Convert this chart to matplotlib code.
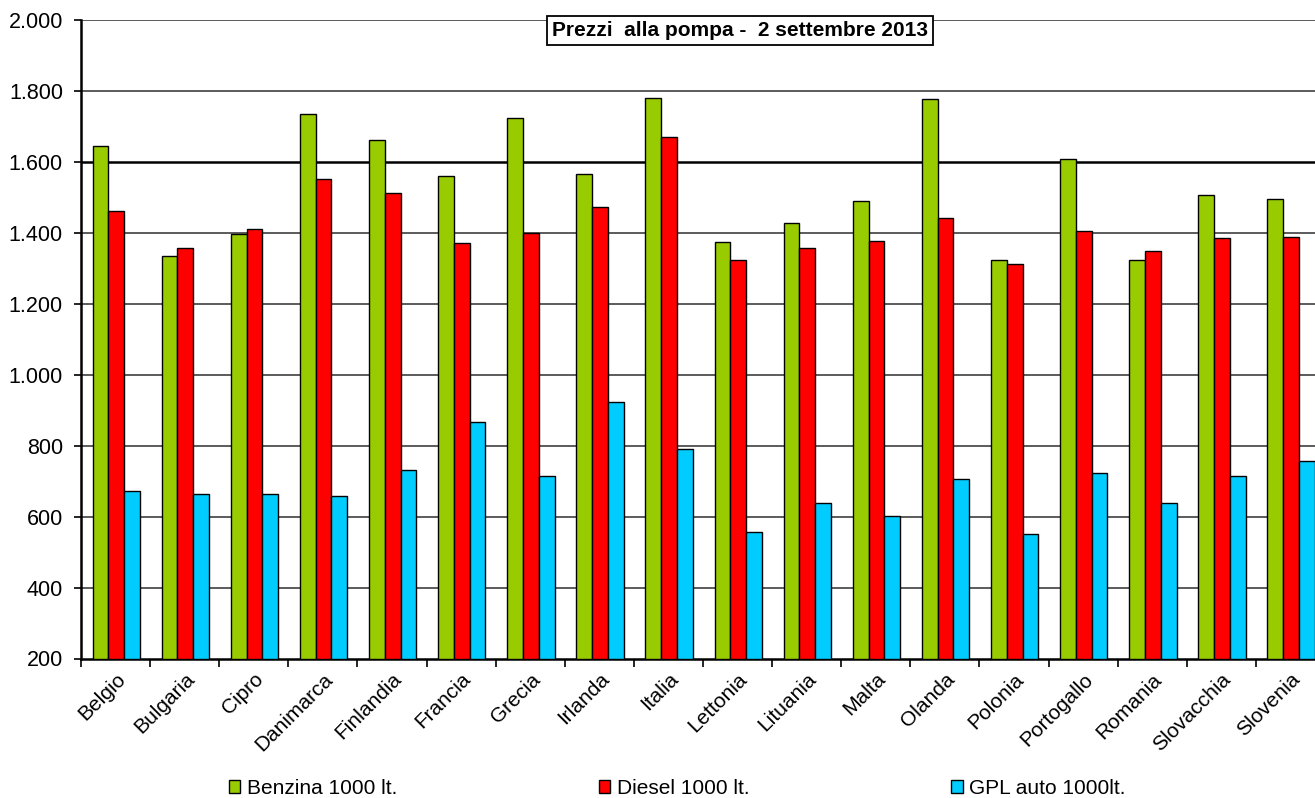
import numpy as np
from matplotlib import pyplot as plt

plt.rcParams['font.family'] = ['Liberation Sans', 'DejaVu Sans']

paesi = ['Belgio', 'Bulgaria', 'Cipro', 'Danimarca', 'Finlandia', 'Francia',
         'Grecia', 'Irlanda', 'Italia', 'Lettonia', 'Lituania', 'Malta',
         'Olanda', 'Polonia', 'Portogallo', 'Romania', 'Slovacchia', 'Slovenia']
benzina = [1645, 1335, 1396, 1734, 1661, 1561, 1724, 1565, 1781, 1373, 1427, 1489,
           1777, 1323, 1607, 1323, 1506, 1495]
diesel = [1462, 1356, 1410, 1551, 1512, 1370, 1400, 1472, 1670, 1323, 1356, 1378,
          1441, 1312, 1404, 1350, 1385, 1388]
gpl = [673, 665, 665, 658, 730, 866, 714, 923, 792, 556, 638, 603,
       707, 552, 724, 638, 715, 757]
serie = ['Benzina 1000 lt.', 'Diesel 1000 lt.', 'GPL auto 1000lt.']
colori = ['#99CC00', '#FF0000', '#00CCFF']
y_ticks = [200, 400, 600, 800, 1000, 1200, 1400, 1600, 1800, 2000]
y_labels = ['200', '400', '600', '800', '1.000', '1.200', '1.400', '1.600', '1.800', '2.000']

fig = plt.figure(figsize=[13.15, 7.98], dpi=100)
# the plot area runs past the right edge of the picture, as in the original
ax = fig.add_axes([81/1315, 139.5/798, 1244/1315, 638.5/798])

x = np.arange(len(paesi))
w = 0.228
for k, (vals, lab, col) in enumerate(zip([benzina, diesel, gpl], serie, colori)):
    ax.bar(x + (k - 1) * w + 0.01, np.array(vals) - 200, bottom=200, width=w,
           color=col, edgecolor='black', linewidth=1, label=lab, zorder=3)

ax.set_xlim(-0.5, len(paesi) - 0.5)
ax.set_ylim(200, 2000)
ax.set_yticks(y_ticks)
ax.set_yticklabels(y_labels, fontsize=15.5)
for yv in y_ticks[1:]:
    if yv == 1600:
        ax.axhline(yv, color='black', lw=1.8, zorder=1)
    else:
        ax.axhline(yv, color='#404040', lw=1.2, zorder=1)

ax.set_xticks(x)
ax.set_xticklabels(paesi, fontsize=15, rotation=45, ha='right', va='top',
                   rotation_mode='anchor')
ax.set_xticks(np.arange(len(paesi) + 1) - 0.5, minor=True)
ax.tick_params(axis='x', which='major', length=0, pad=8)
ax.tick_params(axis='x', which='minor', length=6, width=1.2, direction='out')
ax.tick_params(axis='y', length=5, width=1.2, direction='out', pad=8)

for s in ['top', 'right']:
    ax.spines[s].set_visible(False)
ax.spines['left'].set_linewidth(1.8)
ax.spines['bottom'].set_linewidth(1.8)

fig.text(0.5627, 0.962, 'Prezzi  alla pompa -  2 settembre 2013', fontsize=15,
         fontweight='bold', ha='center', va='center',
         bbox=dict(boxstyle='square,pad=0.25', facecolor='white', edgecolor='black', lw=1.3))

fig.legend(loc='center', bbox_to_anchor=(0.515, 0.012), ncol=3, frameon=False,
           fontsize=15, handlelength=0.55, handleheight=0.55, handletextpad=0.3,
           columnspacing=9.7, borderaxespad=0)

plt.savefig('out.png', dpi=100)
